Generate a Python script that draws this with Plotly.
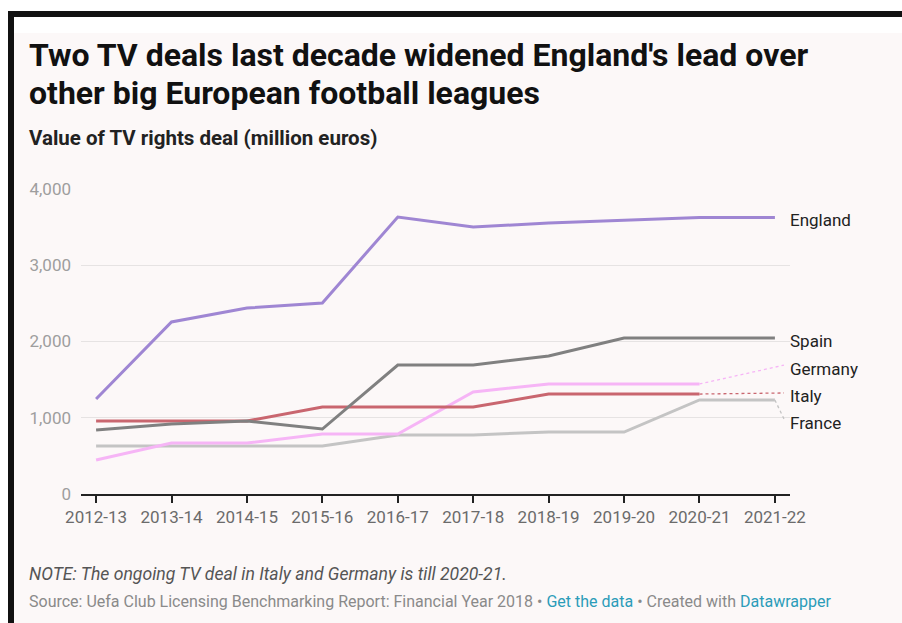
import plotly.graph_objects as go

seasons = ["2012-13", "2013-14", "2014-15", "2015-16", "2016-17",
           "2017-18", "2018-19", "2019-20", "2020-21", "2021-22"]

england = [1246, 2256, 2439, 2505, 3633, 3502, 3554, 3593, 3626, 3626]
spain   = [839, 918, 957, 852, 1692, 1692, 1810, 2046, 2046, 2046]
italy   = [957, 957, 957, 1141, 1141, 1141, 1311, 1311, 1311]
germany = [446, 669, 669, 787, 787, 1338, 1443, 1443, 1443]
france  = [630, 630, 630, 630, 774, 774, 813, 813, 1233, 1233]

y_ticks = [0, 1000, 2000, 3000, 4000]

W, H = 902, 623
L, R, T, B = 81, 790, 189, 494
BG = "#fcf8f8"


def px(x):
    return (x - L) / (R - L)


def py(y):
    return (B - y) / (B - T)


series = [
    ("England", england, "#9f86d3", 3),
    ("Spain", spain, "#808080", 3),
    ("Italy", italy, "#c9666f", 3),
    ("Germany", germany, "#f6b5f6", 3),
    ("France", france, "#c4c4c4", 3),
]

# label y positions (data units) used for placing line labels
label_y = {"England": 3600, "Spain": 2010, "Germany": 1640, "Italy": 1285, "France": 930}
# connector endpoints for displaced labels
connect_y = {"Germany": 1690, "Italy": 1325, "France": 985}

fig = go.Figure()
xi = list(range(len(seasons)))

# dotted connectors (drawn first, under the lines)
for name, vals, color, w in series:
    if name in connect_y:
        last = len(vals) - 1
        fig.add_trace(go.Scatter(
            x=[last, 9.12], y=[vals[last], connect_y[name]],
            mode="lines", line=dict(color=color, width=1.3, dash="dot"),
            hoverinfo="skip", showlegend=False))

order = ["France", "Germany", "Italy", "Spain", "England"]
for nm in order:
    name, vals, color, w = next(s for s in series if s[0] == nm)
    fig.add_trace(go.Scatter(
        x=xi[:len(vals)], y=vals, mode="lines", name=name,
        line=dict(color=color, width=w), showlegend=False))

annotations = []
for name, vals, color, w in series:
    annotations.append(dict(
        x=9.17, y=label_y[name], xref="x", yref="y", text=name,
        showarrow=False, xanchor="left", yanchor="middle",
        font=dict(family="Roboto", size=17, color="#222222")))

title_lines = ["Two TV deals last decade widened England's lead over",
               "other big European football leagues"]
for line, ypix in zip(title_lines, [55, 93]):
    annotations.append(dict(
        x=px(27), y=py(ypix), xref="paper", yref="paper",
        text=f"<b>{line}</b>",
        showarrow=False, xanchor="left", yanchor="middle", align="left",
        font=dict(family="Roboto", size=32, color="#111111")))

annotations += [
    dict(x=px(27), y=py(138), xref="paper", yref="paper",
         text="<b>Value of TV rights deal (million euros)</b>",
         showarrow=False, xanchor="left", yanchor="middle", align="left",
         font=dict(family="Roboto", size=20.5, color="#222222")),
    dict(x=px(27), y=py(574), xref="paper", yref="paper",
         text="<i>NOTE: The ongoing TV deal in Italy and Germany is till 2020-21.</i>",
         showarrow=False, xanchor="left", yanchor="middle", align="left",
         font=dict(family="Roboto", size=17.6, color="#555555")),
    dict(x=px(27), y=py(601), xref="paper", yref="paper",
         text="Source: Uefa Club Licensing Benchmarking Report: Financial Year 2018 • "
              "<span style='color:#2b9cb9'>Get the data</span> • Created with "
              "<span style='color:#2b9cb9'>Datawrapper</span>",
         showarrow=False, xanchor="left", yanchor="middle", align="left",
         font=dict(family="Roboto", size=16, color="#8a8a8a")),
]

shapes = [
    dict(type="rect", xref="paper", yref="paper", x0=px(0), x1=px(W), y0=py(0), y1=py(33),
         fillcolor="white", line=dict(width=0), layer="below"),
    dict(type="rect", xref="paper", yref="paper", x0=px(0), x1=px(8), y0=py(0), y1=py(H),
         fillcolor="white", line=dict(width=0), layer="below"),
    dict(type="rect", xref="paper", yref="paper", x0=px(8), x1=px(W), y0=py(11), y1=py(17),
         fillcolor="#111111", line=dict(width=0)),
    dict(type="rect", xref="paper", yref="paper", x0=px(8), x1=px(14), y0=py(11), y1=py(H),
         fillcolor="#111111", line=dict(width=0)),
]

fig.update_layout(
    width=W, height=H,
    margin=dict(l=L, r=W - R, t=T, b=H - B, pad=0),
    paper_bgcolor=BG, plot_bgcolor=BG,
    annotations=annotations, shapes=shapes,
    font=dict(family="Roboto"),
    xaxis=dict(
        range=[-0.2, 9.2], tickvals=xi, ticktext=seasons,
        showgrid=False, zeroline=False,
        showline=True, linecolor="#222222", linewidth=1.5,
        ticks="outside", ticklen=7, tickwidth=1.5, tickcolor="#222222",
        tickfont=dict(family="Roboto", size=17, color="#6b6b6b"),
        fixedrange=True,
    ),
    yaxis=dict(
        range=[0, 4000], tickvals=y_ticks,
        ticktext=[f"{v:,}" for v in y_ticks],
        showgrid=True, gridcolor="#e6e3e3", gridwidth=1,
        zeroline=False, showline=False, ticks="",
        ticklabelstandoff=9,
        tickfont=dict(family="Roboto", size=17, color="#9e9e9e"),
        fixedrange=True,
    ),
)

fig.write_html("out.html")
